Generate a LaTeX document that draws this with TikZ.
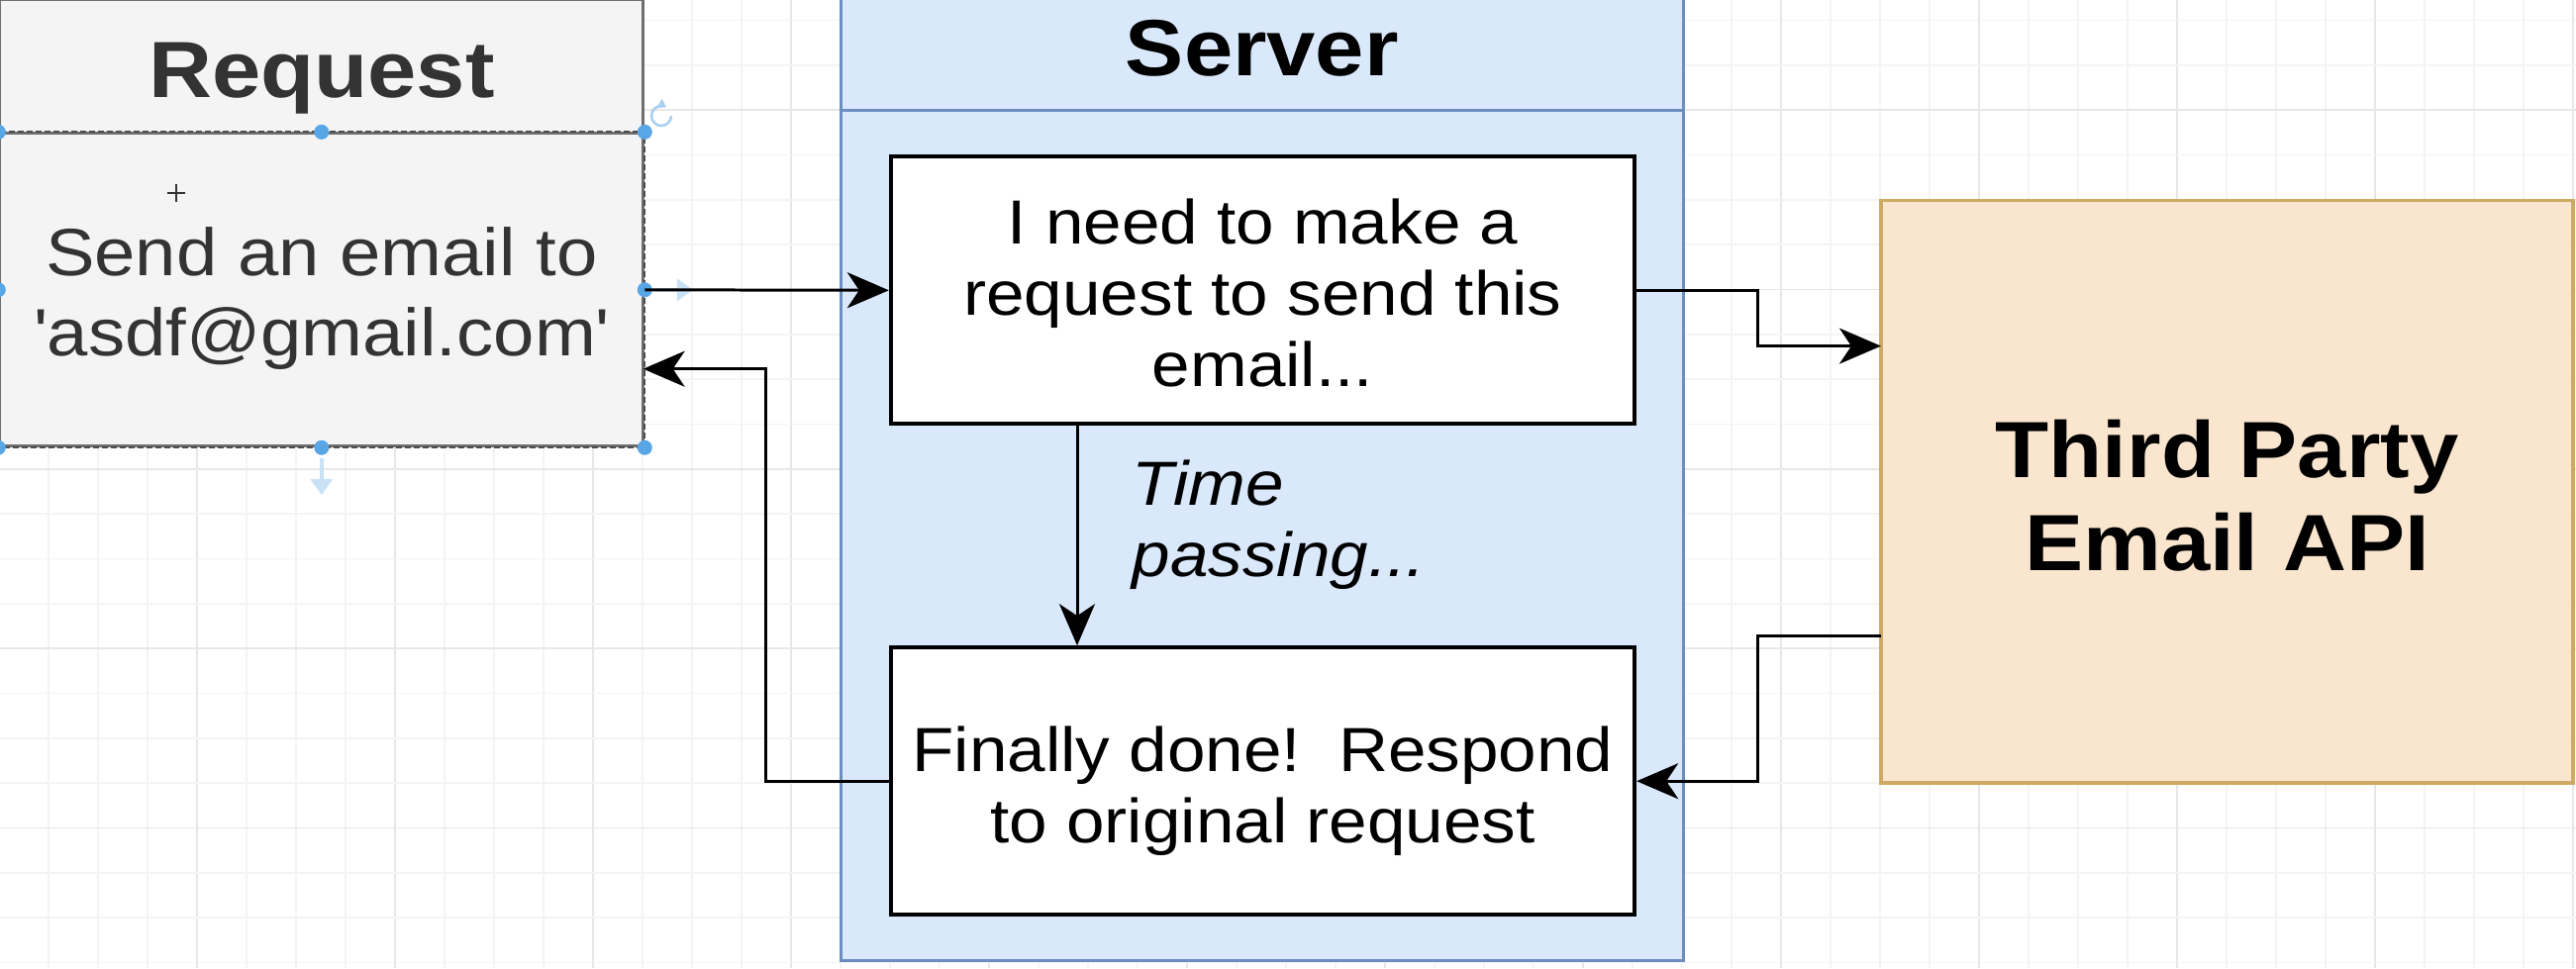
\documentclass[tikz,border=0pt]{standalone}
\usepackage{fontspec}
\setmainfont{Liberation Sans}[FakeStretch=1.1]
\usetikzlibrary{arrows.meta,calc}
\definecolor{gridminor}{RGB}{244,244,244}
\definecolor{gridmajor}{RGB}{231,231,231}
\definecolor{reqfill}{RGB}{244,244,244}
\definecolor{reqline}{RGB}{110,110,110}
\definecolor{reqtext}{RGB}{51,51,51}
\definecolor{srvfill}{RGB}{218,232,252}
\definecolor{srvline}{RGB}{108,142,191}
\definecolor{apifill}{RGB}{250,230,206}
\definecolor{apiline}{RGB}{205,170,100}
\definecolor{handle}{RGB}{88,166,230}
\definecolor{hintblue}{RGB}{200,225,245}
\tikzset{
  reqbox/.style={draw=reqline, line width=0.85pt, fill=reqfill, minimum width=6.496cm, inner sep=0pt, align=center, text=reqtext},
  srvbox/.style={draw=srvline, line width=0.85pt, fill=srvfill, minimum width=8.503cm, minimum height=9.8cm, inner sep=0pt},
  stepbox/.style={draw=black, line width=1.1pt, fill=white, minimum width=7.51cm, minimum height=2.70cm, inner sep=0pt, align=center, font=\fontsize{17.9}{20.5}\selectfont},
  apibox/.style={draw=apiline, line width=1.1pt, fill=apifill, minimum width=6.99cm, minimum height=5.879cm, inner sep=0pt, align=center, font=\bfseries\fontsize{22.9}{26.6}\selectfont, text height=45.2pt, text depth=0pt},
  titletext/.style={font=\bfseries\fontsize{22.9}{26.7}\selectfont, inner sep=0pt},
  conn/.style={draw=black, line width=0.85pt, -{Stealth[length=0.42cm,width=0.36cm,inset=0.12cm]}},
  handledot/.style={fill=handle},
  selline/.style={draw=reqline!70!black, line width=0.6pt, dash pattern=on 0.06cm off 0.03cm},
  hint/.style={draw=hintblue, line width=1.1pt, -{Triangle[length=0.16cm,width=0.22cm]}}
}
\begin{document}
\begin{tikzpicture}[x=0.01cm,y=-0.01cm]
\useasboundingbox (0,0) rectangle (2602,978);
% grid
\begin{scope}
\clip (0,0) rectangle (2602,978);
\fill[white] (0,0) rectangle (2602,978);
\foreach \k in {0,...,52}{
  \pgfmathsetmacro{\xx}{-1+50*\k}
  \pgfmathtruncatemacro{\m}{mod(\k,4)}
  \ifnum\m=0 \draw[gridmajor, line width=0.45pt] (\xx,0) -- (\xx,978);
  \else \draw[gridminor, line width=0.45pt] (\xx,0) -- (\xx,978); \fi
}
\foreach \k in {0,...,21}{
  \pgfmathsetmacro{\yy}{20.5+45.33*\k}
  \pgfmathtruncatemacro{\m}{mod(\k,4)}
  \ifnum\m=2 \draw[gridmajor, line width=0.45pt] (0,\yy) -- (2602,\yy);
  \else \draw[gridminor, line width=0.45pt] (0,\yy) -- (2602,\yy); \fi
}
\end{scope}

% Request
\node[reqbox, minimum height=1.35cm, font=\bfseries\fontsize{22.9}{26.7}\selectfont, text height=17.5pt, text depth=0pt] (reqhead) at (324.8,67.5) {Request};
\node[reqbox, minimum height=3.157cm, font=\fontsize{19.2}{23.25}\selectfont, text height=38.2pt, text depth=0pt] (reqbody) at (324.8,292.8) {Send an email to\\\textquotesingle asdf@gmail.com\textquotesingle};
\draw[selline] (reqbody.north west) rectangle (reqbody.south east);
\foreach \p in {reqbody.north west,reqbody.north,reqbody.north east,reqbody.west,reqbody.east,reqbody.south west,reqbody.south,reqbody.south east}
  \fill[handledot] (\p) circle (0.075cm);
% selection hints
\coordinate (rot) at (668,117);
\draw[hintblue!70!handle, line width=0.7pt, -{Triangle[length=0.08cm,width=0.1cm]}] ($(rot)+(10,0)$) arc (0:300:10);
\coordinate (hd1) at (324.8,463);
\coordinate (hd2) at (324.8,500);
\draw[hint] (hd1) -- (hd2);
\coordinate (hr1) at (662,292.8);
\coordinate (hr2) at (700,292.8);
\draw[hint] (hr1) -- (hr2);
\coordinate (cur) at (178,195);
\draw[black!80, line width=0.5pt] ($(cur)+(-9,0)$) -- ($(cur)+(9,0)$) ($(cur)+(0,-9)$) -- ($(cur)+(0,9)$);

% Server
\node[srvbox] (server) at (1274.85,480) {};
\path (server.north west) ++(0,123) coordinate (sh1);
\draw[srvline, line width=0.85pt] (sh1) -- (sh1 -| server.east);
\node[titletext, anchor=base] (srvtitle) at (1274.85,76) {Server};

\node[stepbox, text height=55.4pt, text depth=0pt] (box1) at (1275.5,293.3) {I need to make a\\request to send this\\email...};
\node[stepbox, text height=35.7pt, text depth=0pt] (box2) at (1275.5,789.2) {Finally done!\ \ Respond\\to original request};

% Third party API
\node[apibox] (api) at (2249.5,496.6) {Third Party\\Email API};

% Time passing label
\node[font=\itshape\fontsize{17.9}{20.5}\selectfont, align=left, anchor=west, inner sep=0pt] (tp) at (1143,530) {Time\\passing...};

% connectors
\coordinate (tx) at (1088,0);
\coordinate (jx) at (1775.7,0);
\coordinate (kx) at (773,0);
\coordinate (apiIn) at (1900,349.6);
\coordinate (apiOut) at (1900,642.4);
\coordinate (reqIn) at (649.6,372.7);

\draw[conn] (reqbody.east) -- (box1.west);
\draw[conn] (box1.east) -| (jx |- apiIn) -- (apiIn);
\draw[conn] (box1.south -| tx) -- (box2.north -| tx);
\draw[conn] (apiOut) -- (jx |- apiOut) |- (box2.east);
\draw[conn] (box2.west) -| (kx |- reqIn) -- (reqIn);
\end{tikzpicture}
\end{document}
